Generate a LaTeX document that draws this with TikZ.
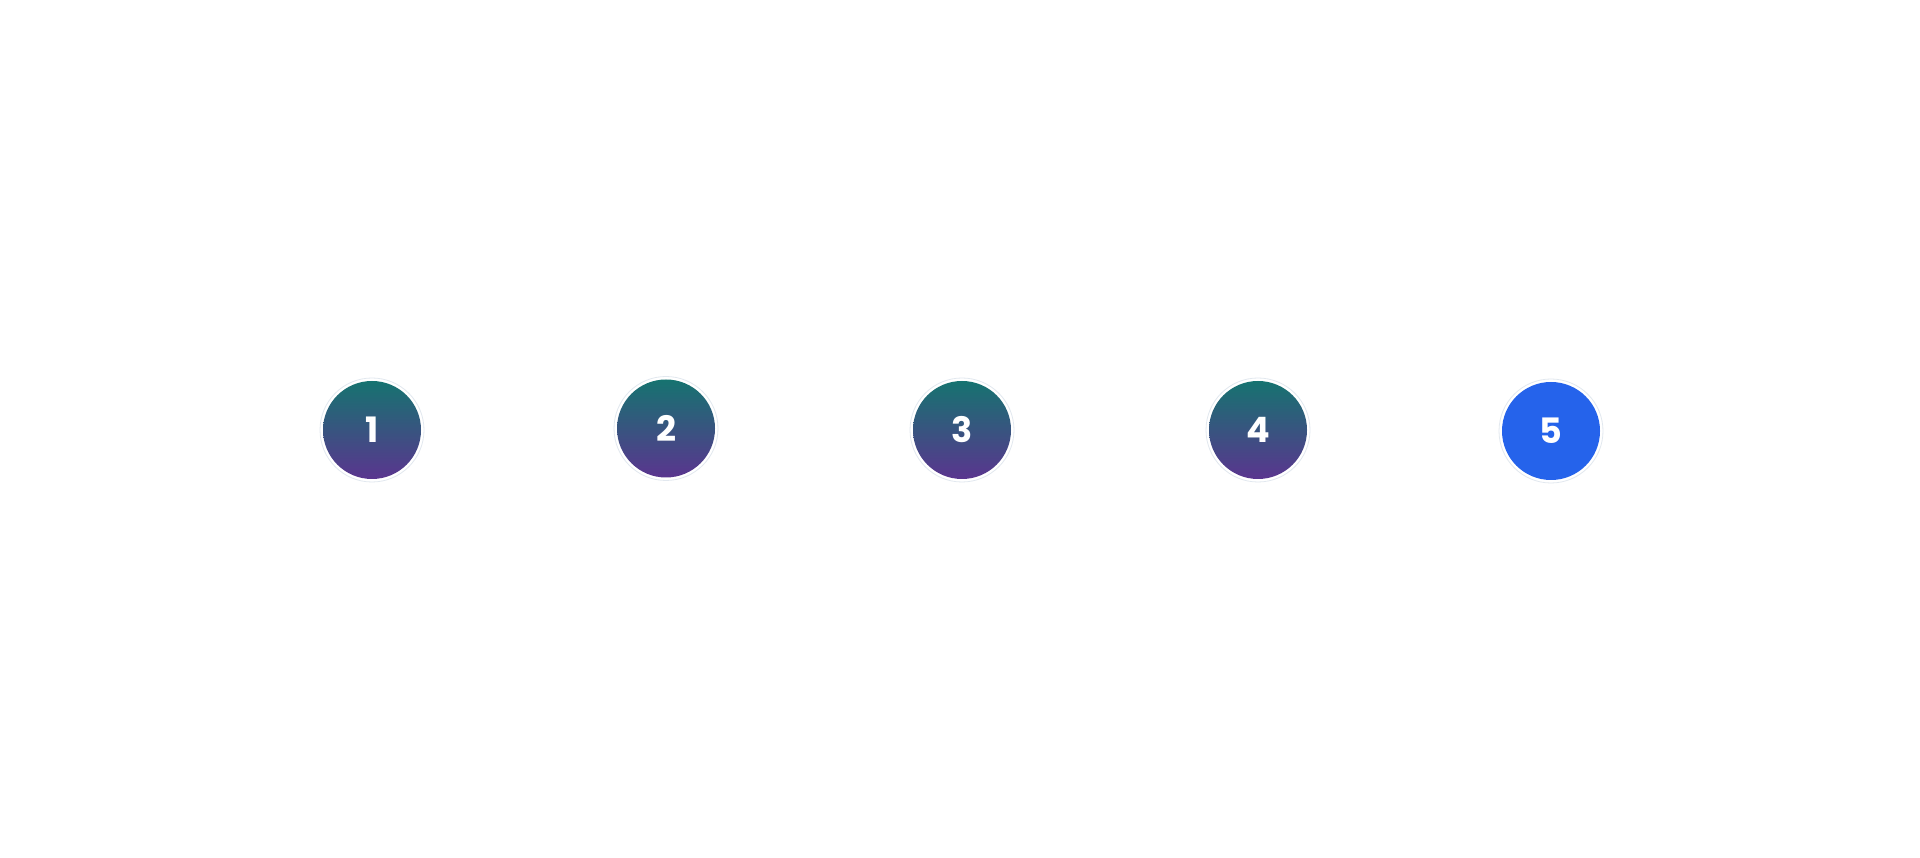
\documentclass[tikz,border=0pt]{standalone}
\usepackage{fontspec}
\setmainfont{Poppins}
\definecolor{gtop}{HTML}{167370}
\definecolor{gbot}{HTML}{5A358F}
\definecolor{bluec}{HTML}{2563EB}
\definecolor{ringc}{HTML}{E2E8EF}
\tikzset{
  stepnode/.style={circle, minimum size=98pt, inner sep=0pt, text=white,
    font=\fontsize{35}{35}\selectfont\bfseries},
  gradnode/.style={stepnode, top color=gtop, bottom color=gbot},
  bluenode/.style={stepnode, fill=bluec},
  ringline/.style={draw=ringc, line width=0.8pt, fill=white}
}
\begin{document}
\begin{tikzpicture}[x=1pt,y=1pt]
\useasboundingbox[fill=white] (0,0) rectangle (1920,857);
\foreach \x/\y in {372/427, 666/428.5, 962/427, 1258/427, 1551/426}{
  \fill[ringline] (\x,\y) circle (52);
}
\node[gradnode] (n1) at (372,427) {1};
\node[gradnode] (n2) at (666,428.5) {2};
\node[gradnode] (n3) at (962,427) {3};
\node[gradnode] (n4) at (1258,427) {4};
\node[bluenode] (n5) at (1551,426) {5};
\end{tikzpicture}
\end{document}
